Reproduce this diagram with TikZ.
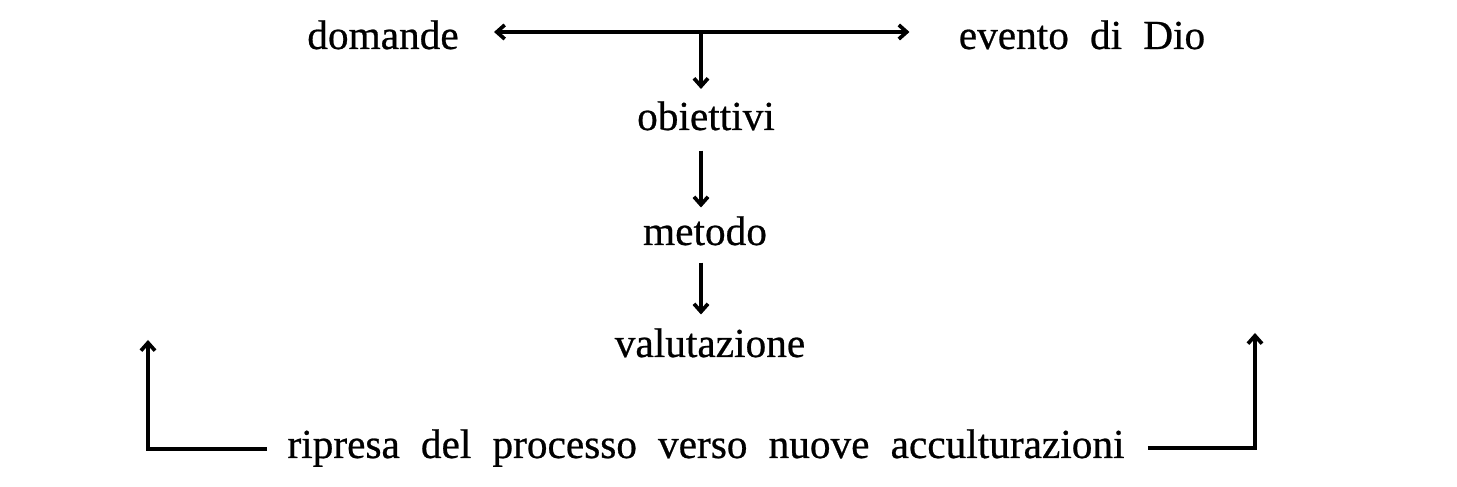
\documentclass[tikz,border=0pt]{standalone}
\usepackage{fontspec}
\setmainfont[FakeBold=0.6]{Liberation Serif}
\usepackage{tikz}
\usetikzlibrary{calc,arrows.meta}
\newcommand\wordfont{\fontsize{23.5}{28}\selectfont\spaceskip=12pt plus 2pt minus 1pt\relax}
\tikzset{%
  word/.style={inner sep=0,anchor=base,font=\wordfont},
  fedge/.style={draw=black,line width=2.1pt,-{Straight Barb[length=4.5pt,width=8pt]}},
  bedge/.style={draw=black,line width=2.1pt,{Straight Barb[length=4.5pt,width=8pt]}-{Straight Barb[length=4.5pt,width=8pt]}}
}
\begin{document}
\begin{tikzpicture}
    \useasboundingbox (0,0) rectangle (29.14,9.74);
    \path[every node/.style=word]
      (7.66,8.76) node (dom) {domande} (21.64,8.76) node (ev) {evento di Dio}
      (14.12,7.14) node (obi) {obiettivi} (14.10,4.84) node (met) {metodo}
      (14.20,2.60) node (val) {valutazione}
      (14.12,0.58) node (rip) {ripresa del processo verso nuove acculturazioni};
    \coordinate (fork) at (14.02,9.10);
    \coordinate (backl) at (2.96,2.94);
    \coordinate (backr) at (25.10,3.08);
    \draw[bedge,shorten <=0.7cm,shorten >=0.98cm] (dom.east |- fork) -- (ev.west |- fork);
    \draw[fedge,shorten >=0.24cm] (fork) -- (fork |- obi.north);
    \draw[fedge,shorten <=0.40cm,shorten >=0.17cm] (obi.south -| fork) -- (met.north -| fork);
    \draw[fedge,shorten <=0.34cm,shorten >=0.27cm] (met.south -| fork) -- (val.north -| fork);
    \draw[fedge,shorten <=0.4cm] ([yshift=0.1cm]rip.mid west) -| (backl);
    \draw[fedge,shorten <=0.46cm] ([yshift=0.12cm]rip.mid east) -| (backr);
  \end{tikzpicture}
\end{document}
